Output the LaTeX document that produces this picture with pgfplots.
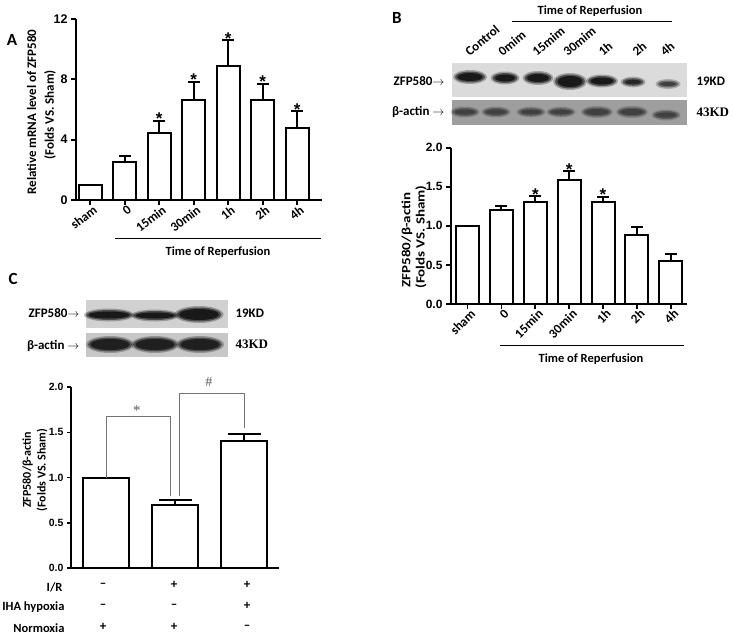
\documentclass[border=0pt]{standalone}
\usepackage{fontspec}
\setmainfont{Carlito}
\newfontfamily\arialf{Liberation Sans}
\newfontfamily\timesf{Liberation Serif}
\usepackage{pgfplots}
\pgfplotsset{compat=1.18}
\newcommand{\fs}[1]{\fontsize{#1}{#1}\selectfont}
\newcommand{\band}[5]{%
  \fill[#5, opacity=0.3] (#1pt,-#2pt) ellipse [x radius={#3pt+2pt}, y radius={#4pt+1.5pt}];
  \fill[#5, opacity=0.6] (#1pt,-#2pt) ellipse [x radius={#3pt}, y radius={#4pt}];
  \fill[#5] (#1pt,-#2pt) ellipse [x radius={#3pt-2.5pt}, y radius={#4pt-1.5pt}];
}
\pgfplotsset{
  panel/.style={
    scale only axis, axis lines*=left, clip=false,
    axis line style={line width=2pt, black},
    tick align=outside, major tick length=5pt,
    major tick style={line width=1.8pt, black},
    ymin=0,
    /pgf/number format/assume math mode=true,
  },
  bars/.style={ybar, bar width=#1, fill=white, draw=black, line width=2pt},
  errs/.style={error bars/y dir=plus, error bars/y explicit,
    error bars/error mark=|,
    error bars/error bar style={line width=2pt, black},
    error bars/error mark options={line width=2pt, mark size=#1, black}},
  stars/.style={draw=none, mark=none, nodes near coords={*},
    every node near coord/.append style={font=\arialf\bfseries\fs{17}, anchor=base, inner sep=0pt, yshift=-4pt}},
}
\begin{document}
\begin{tikzpicture}
% ---------------- Panel A ----------------
\node[font=\bfseries\fs{17}] at (12pt,-40pt) {A};
\begin{axis}[panel, at={(76pt,-200pt)}, anchor=south west, width=246pt, height=181pt,
  xmin=-0.41, xmax=6.72, ymax=12, ytick={0,4,8,12}, xtick={0,...,6},
  xticklabels={sham,0,15min,30min,1h,2h,4h},
  yticklabel style={font=\arialf\bfseries\fs{12.5}},
  xticklabel style={font=\bfseries\fs{13}, rotate=38, anchor=north east, inner sep=1pt, xshift=3pt},
]
\addplot[bars=23pt, errs=6pt] table[x=x, y=y, y error=e] {
x y e
0 1.0 0
1 2.5 0.4
2 4.42 0.84
3 6.6 1.25
4 8.9 1.7
5 6.6 1.1
6 4.8 1.1
};
\addplot[stars] coordinates {(2,5.26) (3,7.85) (4,10.6) (5,7.7) (6,5.9)};
\end{axis}
\node[rotate=90, font=\bfseries\fs{13}] at (31.5pt,-112pt) {Relative mRNA level of ZFP580};
\node[rotate=90, font=\bfseries\fs{13}] at (50pt,-115pt) {(Folds VS. Sham)};
\draw[line width=0.8pt] (115pt,-238pt) -- (321pt,-238pt);
\node[font=\bfseries\fs{12.5}] at (218pt,-252pt) {Time of Reperfusion};

% ---------------- Panel B ----------------
\node[font=\bfseries\fs{17}] at (397pt,-18pt) {B};
\node[font=\bfseries\fs{12.5}] at (590pt,-11pt) {Time of Reperfusion};
\draw[line width=0.8pt] (512pt,-21pt) -- (672pt,-21pt);
\foreach \x/\t in {470/Control, 503/0mim, 537/15mim, 568/30mim, 603/1h, 637/2h, 665/4h}
  \node[rotate=40, anchor=south west, inner sep=0pt, font=\bfseries\fs{13}] at (\x pt,-57pt) {\t};
\fill[black!14] (452pt,-63pt) rectangle (687pt,-97pt);
\fill[black!38] (452pt,-100pt) rectangle (687pt,-125pt);
\band{470}{77}{15}{5.5}{black!90}
\band{505}{78}{12.5}{5}{black!90}
\band{538}{78}{13.5}{5.5}{black!90}
\band{570}{81.5}{15}{7}{black!90}
\band{602}{81}{14}{5}{black!90}
\band{633}{82}{10.5}{3.8}{black!85}
\band{668}{84}{10.5}{3.5}{black!75}
\band{465}{112}{12.5}{4}{black!75}
\band{496}{112}{12.5}{4}{black!75}
\band{531}{112}{12.5}{3.8}{black!75}
\band{561}{112}{12.5}{3.8}{black!75}
\band{597}{112}{14}{4.5}{black!75}
\band{632}{112}{14}{4.5}{black!75}
\band{666}{115}{12.5}{4}{black!75}
\node[anchor=east, font=\bfseries\fs{13}] at (448pt,-81pt) {ZFP580$\rightarrow$};
\node[anchor=east, font=\bfseries\fs{13}] at (448pt,-112pt) {β-actin $\rightarrow$};
\node[anchor=west, font=\bfseries\fs{13}] at (693pt,-81pt) {19KD};
\node[anchor=west, font=\timesf\bfseries\fs{13}] at (693pt,-112pt) {43KD};
\begin{axis}[panel, at={(451pt,-304pt)}, anchor=south west, width=236pt, height=156.3pt,
  xmin=-0.49, xmax=6.48, ymax=2, ytick={0,0.5,1,1.5,2}, xtick={0,...,6},
  xticklabels={sham,0,15min,30min,1h,2h,4h},
  /pgf/number format/fixed, /pgf/number format/fixed zerofill, /pgf/number format/precision=1,
  yticklabel style={font=\arialf\bfseries\fs{12}},
  xticklabel style={font=\bfseries\fs{13}, rotate=45, anchor=north east, inner sep=1pt, xshift=3pt},
]
\addplot[bars=23pt, errs=6pt] table[x=x, y=y, y error=e] {
x y e
0 1.0 0
1 1.2 0.06
2 1.30 0.08
3 1.59 0.11
4 1.30 0.07
5 0.88 0.10
6 0.55 0.09
};
\addplot[stars] coordinates {(2,1.38) (3,1.70) (4,1.37)};
\end{axis}
\node[rotate=90, font=\bfseries\fs{12.5}] at (407pt,-240pt) {\scalebox{1.2}[1]{ZFP580/β-actin}};
\node[rotate=90, font=\bfseries\fs{12.5}] at (421pt,-237pt) {\scalebox{1.2}[1]{(Folds VS. Sham)}};
\draw[line width=0.8pt] (500pt,-345pt) -- (684pt,-345pt);
\node[font=\bfseries\fs{12.5}] at (591pt,-359pt) {Time of Reperfusion};

% ---------------- Panel C ----------------
\node[font=\bfseries\fs{17}] at (13pt,-279pt) {C};
\fill[black!18] (86pt,-300pt) rectangle (228pt,-328pt);
\fill[black!22] (86pt,-333pt) rectangle (228pt,-357pt);
\band{109}{315}{23}{5}{black!90}
\band{155}{315.5}{22}{4.5}{black!90}
\band{199}{314.5}{22.5}{7}{black!90}
\band{110}{344.5}{22}{7}{black!88}
\band{155}{344.5}{22}{7}{black!88}
\band{200}{344.5}{22}{7}{black!88}
\node[anchor=east, font=\bfseries\fs{13}] at (83pt,-313pt) {ZFP580$\rightarrow$};
\node[anchor=east, font=\bfseries\fs{13}] at (83pt,-346pt) {β-actin $\rightarrow$};
\node[anchor=west, font=\bfseries\fs{13}] at (232pt,-313pt) {19KD};
\node[anchor=west, font=\timesf\bfseries\fs{13}] at (232pt,-344pt) {43KD};
\begin{axis}[panel, at={(71pt,-567.7pt)}, anchor=south west, width=208pt, height=180.4pt,
  xmin=-0.5, xmax=2.5, ymax=2, ytick={0,0.5,1,1.5,2}, xtick=\empty,
  major tick length=4pt,
  /pgf/number format/fixed, /pgf/number format/fixed zerofill, /pgf/number format/precision=1,
  yticklabel style={font=\arialf\bfseries\fs{10.5}},
]
\addplot[bars=46pt, errs=16.5pt] table[x=x, y=y, y error=e] {
x y e
0 1.0 0
1 0.70 0.055
2 1.40 0.085
};
\draw[black!55, line width=0.9pt] (axis cs:0.01,1.0) -- (axis cs:0.01,1.68) -- (axis cs:0.93,1.68) -- (axis cs:0.93,0.80);
\draw[black!55, line width=0.9pt] (axis cs:1.06,0.79) -- (axis cs:1.06,1.93) -- (axis cs:2.0,1.93) -- (axis cs:2.0,1.55);
\node[font=\timesf\fs{15}, text=black!65] at (axis cs:0.45,1.74) {*};
\node[font=\timesf\fs{14}, text=black!65] at (axis cs:1.49,2.06) {\#};
\end{axis}
\node[rotate=90, font=\bfseries\fs{12}] at (27.5pt,-470pt) {ZFP580/β-actin};
\node[rotate=90, font=\bfseries\fs{12}] at (42pt,-470pt) {(Folds VS. Sham)};
\node[anchor=east, font=\bfseries\fs{12.5}] at (66pt,-587pt) {I/R};
\node[anchor=east, font=\bfseries\fs{12.5}] at (68pt,-607pt) {IHA hypoxia};
\node[anchor=east, font=\bfseries\fs{12.5}] at (68pt,-628pt) {Normoxia};
\foreach \x/\a/\b/\c in {103/--/--/+, 174/+/--/+, 247/+/+/--}{
  \node[font=\bfseries\fs{13}] at (\x pt,-585pt) {\a};
  \node[font=\bfseries\fs{13}] at (\x pt,-606pt) {\b};
  \node[font=\bfseries\fs{13}] at (\x pt,-627pt) {\c};
}
\pgfresetboundingbox
\useasboundingbox (0pt,0pt) rectangle (733pt,-638pt);
\end{tikzpicture}
\end{document}
